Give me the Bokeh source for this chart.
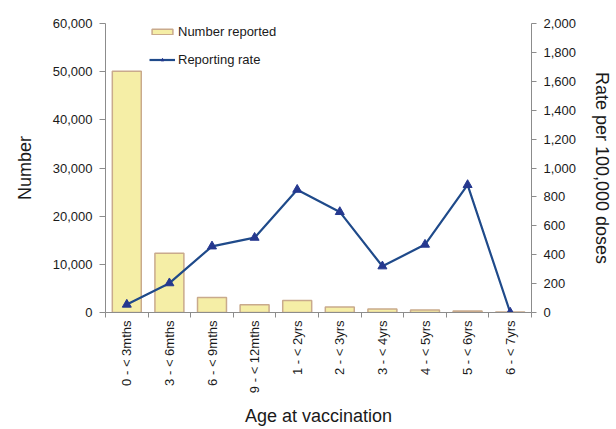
import math
from bokeh.plotting import figure
from bokeh.models import (Range1d, LinearAxis, FixedTicker, NumeralTickFormatter,
                          Legend, LegendItem)
from bokeh.embed import file_html
from bokeh.resources import INLINE

categories = ["0 - < 3mths", "3 - < 6mths", "6 - < 9mths", "9 - < 12mths",
              "1 - < 2yrs", "2 - < 3yrs", "3 - < 4yrs", "4 - < 5yrs",
              "5 - < 6yrs", "6 - < 7yrs"]
number_reported = [50100, 12300, 3100, 1600, 2500, 1150, 750, 500, 300, 120]
reporting_rate = [55, 203, 458, 518, 850, 696, 320, 470, 883, 0]

left_ticks = [0, 10000, 20000, 30000, 40000, 50000, 60000]
right_ticks = [0, 200, 400, 600, 800, 1000, 1200, 1400, 1600, 1800, 2000]

FONT = "Liberation Sans"
AXIS_COLOR = "#8c8c8c"
TEXT_COLOR = "#1a1a1a"

xs = [i + 0.5 for i in range(len(categories))]

p = figure(width=616, height=429, output_backend="svg", toolbar_location=None,
           x_range=Range1d(0, len(categories)), y_range=Range1d(0, 60000),
           min_border_left=105, min_border_right=85, min_border_top=23,
           min_border_bottom=117)
p.outline_line_color = None
p.xgrid.visible = False
p.ygrid.visible = False
p.background_fill_color = "white"

p.extra_y_ranges = {"rate": Range1d(0, 2000)}

bars = p.vbar(x=xs, top=number_reported, width=0.68, bottom=0,
              fill_color="#F5EEA6", line_color="#C9AA8C", line_width=1.5)
line = p.line(x=xs, y=reporting_rate, y_range_name="rate",
              line_color="#1F4A8A", line_width=2.2)
marks = p.scatter(x=xs, y=reporting_rate, y_range_name="rate", marker="triangle",
                  size=9, fill_color="#25388F", line_color="#25388F")

# Bottom axis
xa = p.xaxis[0]
xa.ticker = FixedTicker(ticks=xs, minor_ticks=list(range(len(categories) + 1)))
xa.major_label_overrides = {x: c for x, c in zip(xs, categories)}
xa.major_label_orientation = math.pi / 2
xa.major_tick_out = 0
xa.major_tick_in = 0
xa.minor_tick_out = 5
xa.minor_tick_in = 0
xa.minor_tick_line_color = AXIS_COLOR
xa.axis_line_color = AXIS_COLOR
xa.major_label_text_font = FONT
xa.major_label_text_font_size = "13px"
xa.major_label_text_color = TEXT_COLOR
xa.major_label_standoff = 3
xa.axis_label = "Age at vaccination"
xa.axis_label_text_font = FONT
xa.axis_label_text_font_size = "18px"
xa.axis_label_text_font_style = "normal"
xa.axis_label_text_color = TEXT_COLOR
xa.axis_label_standoff = 10

# Left axis
ya = p.yaxis[0]
ya.ticker = FixedTicker(ticks=left_ticks)
ya.formatter = NumeralTickFormatter(format="0,0")
ya.major_tick_out = 6
ya.major_tick_in = 0
ya.minor_tick_out = 0
ya.minor_tick_in = 0
ya.major_tick_line_color = AXIS_COLOR
ya.axis_line_color = AXIS_COLOR
ya.major_label_text_font = FONT
ya.major_label_text_font_size = "13px"
ya.major_label_text_color = TEXT_COLOR
ya.major_label_standoff = 7
ya.axis_label = "Number"
ya.axis_label_text_font = FONT
ya.axis_label_text_font_size = "18px"
ya.axis_label_text_font_style = "normal"
ya.axis_label_text_color = TEXT_COLOR
ya.axis_label_standoff = 15

# Right axis
ra = LinearAxis(y_range_name="rate", ticker=FixedTicker(ticks=right_ticks),
                formatter=NumeralTickFormatter(format="0,0"))
ra.major_tick_out = 5
ra.major_tick_in = 0
ra.minor_tick_out = 0
ra.minor_tick_in = 0
ra.major_tick_line_color = AXIS_COLOR
ra.axis_line_color = AXIS_COLOR
ra.major_label_text_font = FONT
ra.major_label_text_font_size = "13px"
ra.major_label_text_color = TEXT_COLOR
ra.major_label_standoff = 7
ra.axis_label = "Rate per 100,000 doses"
ra.axis_label_text_font = FONT
ra.axis_label_text_font_size = "18px"
ra.axis_label_text_font_style = "normal"
ra.axis_label_text_color = TEXT_COLOR
ra.axis_label_standoff = 13
p.add_layout(ra, "right")

legend = Legend(items=[LegendItem(label="Number reported", renderers=[bars]),
                       LegendItem(label="Reporting rate", renderers=[line, marks])],
                location=(44, 243), orientation="vertical",
                glyph_width=26, glyph_height=7, label_height=20, spacing=8,
                padding=0, margin=0, label_standoff=3,
                label_text_font=FONT, label_text_font_size="13px",
                label_text_color=TEXT_COLOR,
                border_line_color=None, background_fill_alpha=0)
p.add_layout(legend)

open("out.html", "w").write(file_html(p, INLINE))
